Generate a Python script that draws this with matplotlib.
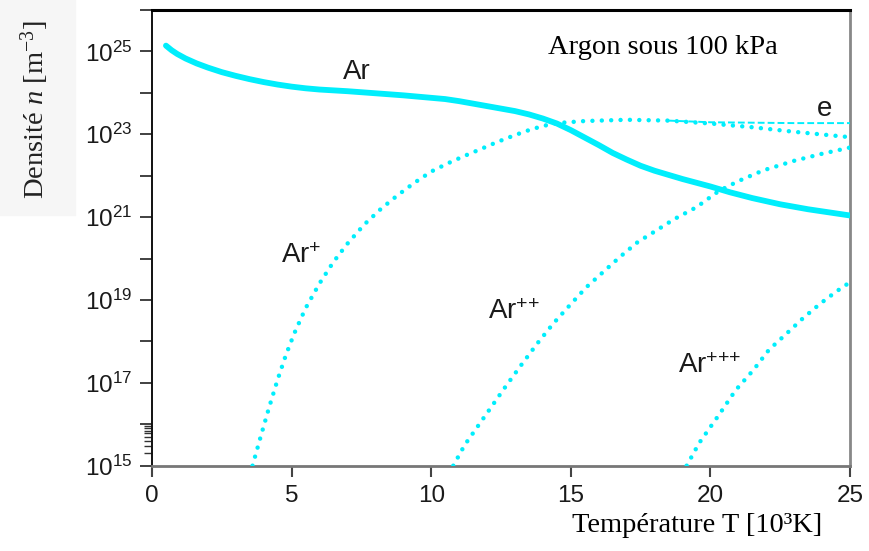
import numpy as np
import matplotlib
matplotlib.use("Agg")
import matplotlib.pyplot as plt
from matplotlib.ticker import FixedLocator, FuncFormatter
from matplotlib.patches import Rectangle

# ==================== DATA ====================
# temperature in 10^3 K, log10 of densities in m^-3
ar_T = [0.5, 0.7, 0.9, 1.2, 1.6, 2.0, 2.5, 3.0, 3.5, 4.0, 4.5, 5.0, 5.5, 6.0,
        7.0, 8.0, 9.0, 10.0, 10.5, 11.0, 11.5, 12.0, 12.5, 13.0, 13.5, 14.0,
        14.5, 15.0, 15.5, 16.0, 16.5, 17.0, 17.5, 18.0, 18.5, 19.0, 19.5, 20.0,
        20.7, 21.5, 22.5, 23.5, 25.0]
ar_logn = [25.14, 25.03, 24.94, 24.83, 24.71, 24.61, 24.50, 24.41, 24.33, 24.26,
           24.20, 24.15, 24.11, 24.08, 24.04, 23.99, 23.94, 23.88, 23.85, 23.80,
           23.74, 23.68, 23.62, 23.56, 23.48, 23.38, 23.26, 23.10, 22.92, 22.74,
           22.55, 22.39, 22.24, 22.12, 22.02, 21.92, 21.83, 21.74, 21.60, 21.46,
           21.31, 21.19, 21.04]

arp_T = [3.6, 3.9, 4.2, 4.5, 4.8, 5.1, 5.5, 6.0, 6.5, 7.0, 7.6, 8.2, 8.8, 9.4,
         10.0, 10.6, 11.2, 11.8, 12.35, 13.0, 13.5, 14.0, 14.5, 15.5, 17.0, 18.5,
         20.0, 21.5, 23.0, 25.0]
arp_logn = [15.0, 15.72, 16.42, 17.08, 17.68, 18.2, 18.8, 19.4, 19.92, 20.36,
            20.82, 21.2, 21.53, 21.83, 22.1, 22.3, 22.48, 22.65, 22.81, 22.98,
            23.1, 23.2, 23.27, 23.32, 23.35, 23.33, 23.26, 23.17, 23.06, 22.93]

arpp_T = [10.79, 11.2, 11.99, 12.6, 13.18, 13.8, 14.37, 15.0, 15.56, 16.2, 16.76,
          17.4, 17.95, 18.7, 19.5, 20.3, 21.0, 21.9, 23.0, 24.0, 25.0]
arpp_logn = [15.0, 15.5, 16.26, 16.85, 17.39, 17.95, 18.43, 18.9, 19.31, 19.7,
             20.04, 20.4, 20.63, 20.95, 21.24, 21.63, 21.87, 22.13, 22.36, 22.53, 22.68]

arppp_T = [19.15, 19.6, 20.34, 20.9, 21.54, 22.1, 22.73, 23.3, 23.93, 24.5, 25.0]
arppp_logn = [15.0, 15.55, 16.26, 16.82, 17.31, 17.8, 18.19, 18.55, 18.91, 19.2, 19.43]

e_T = [18.5, 20.0, 21.5, 23.0, 25.0]
e_logn = [23.33, 23.29, 23.28, 23.27, 23.27]

y_ticks = list(range(15, 27))
y_labelled = [15, 17, 19, 21, 23, 25]
y_minor = [15 + np.log10(k) for k in range(2, 10)]
x_ticks = [0, 5, 10, 15, 20, 25]

# ==================== STYLE ====================
plt.rcParams['mathtext.fontset'] = 'custom'
plt.rcParams['mathtext.rm'] = 'Liberation Sans'
plt.rcParams['mathtext.sf'] = 'Liberation Sans'
plt.rcParams['mathtext.it'] = 'Liberation Serif:italic'
plt.rcParams['mathtext.bf'] = 'Liberation Serif'  # used for serif superscript in the y label

CYAN = '#00eefc'
SERIF = ['Liberation Serif', 'DejaVu Serif']
SANS = ['Liberation Sans', 'DejaVu Sans']
TXT = '#1a1a1a'

fig = plt.figure(figsize=(8.7, 5.51), dpi=100)
fig.patches.append(Rectangle((0, 1 - 215 / 551), 75 / 870, 215 / 551,
                             transform=fig.transFigure, color='#f6f6f6', zorder=0))
ax = fig.add_axes([152 / 870, 1 - 465.7 / 551, 698 / 870, 455.7 / 551])
ax.set_facecolor('white')

to_n = lambda v: [10.0 ** p for p in v]

ax.plot(ar_T, to_n(ar_logn), color=CYAN, lw=4.2, solid_capstyle='round',
        solid_joinstyle='round', zorder=3)
dots = dict(color=CYAN, lw=3.2, linestyle=(0, (0.01, 2.1)), dash_capstyle='round', zorder=3)
ax.plot(arp_T, to_n(arp_logn), **dots)
ax.plot(arpp_T, to_n(arpp_logn), **dots)
ax.plot(arppp_T, to_n(arppp_logn), **dots)
ax.plot(e_T, to_n(e_logn), color=CYAN, lw=1.4, linestyle=(0, (3.5, 1.6)), zorder=3)

ax.set_yscale('log')
ax.set_xlim(0, 25)
ax.set_ylim(1e15, 1e26)

ax.yaxis.set_major_locator(FixedLocator([10.0 ** p for p in y_ticks]))
ax.yaxis.set_minor_locator(FixedLocator([10.0 ** p for p in y_minor]))
ax.yaxis.set_major_formatter(FuncFormatter(
    lambda v, pos: r'$\mathrm{10^{%d}}$' % round(np.log10(v)) if round(np.log10(v)) in y_labelled else ''))
ax.yaxis.set_minor_formatter(FuncFormatter(lambda v, pos: ''))
ax.set_xticks(x_ticks)
ax.set_xticklabels([str(t) for t in x_ticks])

ax.tick_params(axis='y', which='major', direction='out', length=9, width=1.3,
               color='#333333', labelsize=17.5, labelcolor=TXT, pad=5)
ax.tick_params(axis='y', which='minor', direction='out', length=6, width=1.0, color='#333333')
ax.tick_params(axis='x', which='major', direction='out', length=8, width=1.5,
               color='#444444', labelsize=17.5, labelcolor=TXT, pad=6)
for lab in ax.get_xticklabels() + ax.get_yticklabels():
    lab.set_fontfamily(SANS)

ax.spines['left'].set_color('#111111')
ax.spines['left'].set_linewidth(1.4)
ax.spines['top'].set_color('#000000')
ax.spines['top'].set_linewidth(2.2)
ax.spines['right'].set_color('#888888')
ax.spines['right'].set_linewidth(2.0)
ax.spines['bottom'].set_color('#777777')
ax.spines['bottom'].set_linewidth(2.0)

# curve labels
lab_kw = dict(fontsize=20, color=TXT, family=SANS, va='baseline', ha='left', zorder=4)
ax.text(6.85, 10 ** 24.33, 'Ar', **lab_kw)
ax.text(4.62, 10 ** 19.89, r'Ar$^{{+}}$', **lab_kw)
ax.text(12.04, 10 ** 18.53, r'Ar$^{{+}{+}}$', **lab_kw)
ax.text(18.85, 10 ** 17.24, r'Ar$^{{+}{+}{+}}$', **lab_kw)
ax.text(23.8, 10 ** 23.45, 'e', **lab_kw)

ax.text(18.3, 10 ** 25.09, 'Argon sous 100 kPa', fontsize=20.5, family=SERIF,
        color='black', ha='center', va='center')

fig.text(697.5 / 870, 1 - 525 / 551, 'Température T [10³K]', fontsize=20.5,
         family=SERIF, color='black', ha='center', va='center')
fig.text(35 / 870, 1 - 110 / 551, r'Densité $n$ [m$^{\mathbf{-3}}$]', fontsize=20.5,
         family=SERIF, color='#222222', ha='center', va='center', rotation=90)

plt.savefig('out.png', dpi=100)
